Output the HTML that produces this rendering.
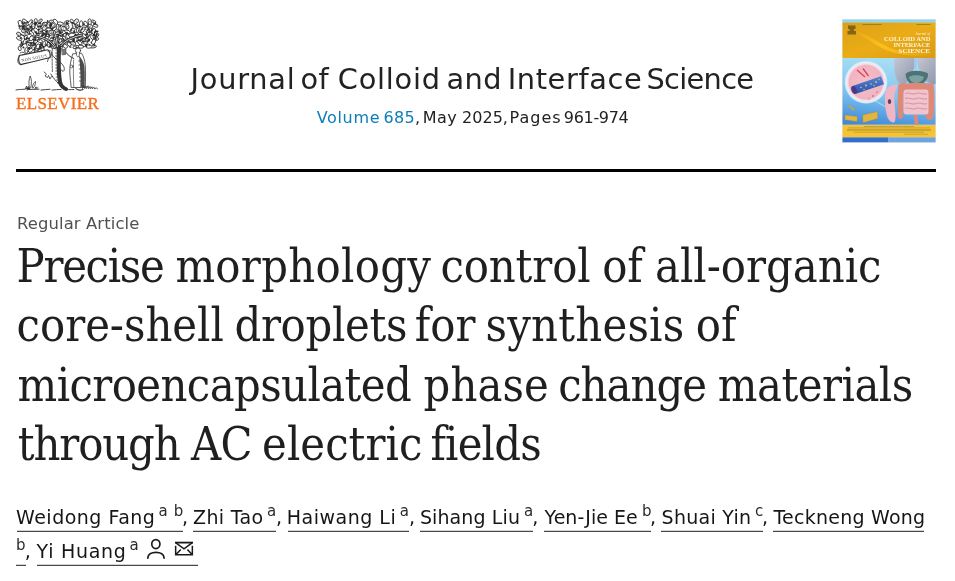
<!DOCTYPE html>
<html><head><meta charset="utf-8"><title>Precise morphology control of all-organic core-shell droplets</title>
<style>
html,body{margin:0;padding:0;background:#fff;}
body{width:955px;height:581px;overflow:hidden;position:relative;font-family:"DejaVu Sans",sans-serif;color:#1f1f1f;}
.abs{position:absolute;white-space:nowrap;}

#els{left:16px;top:93.8px;font-family:"Liberation Serif",serif;font-size:17px;line-height:20px;color:#f86d1a;letter-spacing:0.35px;-webkit-text-stroke:0.35px #f86d1a;}
#rule{left:16px;top:169px;width:920px;height:2px;background:#000;border-bottom:1px solid rgba(0,0,0,0.4);}

#ra{left:17px;top:212.7px;font-size:16.4px;line-height:22px;color:#505050;letter-spacing:0.12px;}
.an{position:absolute;font-size:19px;line-height:30px;white-space:nowrap;color:#161616;}
.as{position:absolute;font-size:15px;line-height:30px;white-space:nowrap;color:#2b2b2b;}
.ul{position:absolute;height:1px;background:#484848;box-shadow:0 -1px 0 rgba(80,80,80,0.25);}
#title{margin:0;font-weight:normal;}
.tw{position:absolute;white-space:nowrap;font-family:"DejaVu Serif Condensed","DejaVu Serif",serif;font-size:46.5px;line-height:59.25px;color:#1f1f1f;}
.jw{position:absolute;white-space:nowrap;font-size:28.8px;line-height:36px;color:#222;}
.vw{position:absolute;white-space:nowrap;font-size:16px;line-height:22px;color:#222;}
.vw a{color:#0c7dbb;text-decoration:none;}
</style></head>
<body>
<svg id="logo" class="abs" style="left:14px;top:16px" width="88" height="78" viewBox="0 0 88 78">
<g fill="#2f2f2f"><ellipse cx="54.1" cy="26.3" rx="1.9" ry="1.0" transform="rotate(143 54.1 26.3)"/><ellipse cx="56.2" cy="31.0" rx="1.4" ry="0.7" transform="rotate(20 56.2 31.0)"/><ellipse cx="47.6" cy="21.2" rx="1.1" ry="0.7" transform="rotate(2 47.6 21.2)"/><ellipse cx="78.1" cy="27.0" rx="1.8" ry="0.7" transform="rotate(29 78.1 27.0)"/><ellipse cx="53.6" cy="7.8" rx="1.9" ry="0.7" transform="rotate(0 53.6 7.8)"/><ellipse cx="20.7" cy="33.5" rx="1.2" ry="1.1" transform="rotate(157 20.7 33.5)"/><ellipse cx="47.2" cy="24.3" rx="1.9" ry="0.9" transform="rotate(37 47.2 24.3)"/><ellipse cx="27.5" cy="14.8" rx="1.1" ry="0.6" transform="rotate(30 27.5 14.8)"/><ellipse cx="27.7" cy="22.1" rx="1.6" ry="0.8" transform="rotate(1 27.7 22.1)"/><ellipse cx="28.4" cy="28.6" rx="1.2" ry="0.8" transform="rotate(87 28.4 28.6)"/><ellipse cx="60.8" cy="5.7" rx="0.9" ry="1.0" transform="rotate(176 60.8 5.7)"/><ellipse cx="67.6" cy="15.0" rx="0.9" ry="0.6" transform="rotate(104 67.6 15.0)"/><ellipse cx="17.8" cy="32.7" rx="1.7" ry="1.1" transform="rotate(35 17.8 32.7)"/><ellipse cx="80.2" cy="14.3" rx="1.5" ry="1.0" transform="rotate(64 80.2 14.3)"/><ellipse cx="11.9" cy="26.5" rx="1.8" ry="0.6" transform="rotate(144 11.9 26.5)"/><ellipse cx="80.6" cy="6.7" rx="1.6" ry="1.1" transform="rotate(61 80.6 6.7)"/><ellipse cx="47.7" cy="13.4" rx="1.1" ry="0.6" transform="rotate(57 47.7 13.4)"/><ellipse cx="15.2" cy="24.7" rx="1.1" ry="0.6" transform="rotate(179 15.2 24.7)"/><ellipse cx="36.3" cy="11.1" rx="1.8" ry="0.8" transform="rotate(107 36.3 11.1)"/><ellipse cx="37.6" cy="5.7" rx="0.9" ry="0.8" transform="rotate(165 37.6 5.7)"/><ellipse cx="71.8" cy="7.9" rx="1.9" ry="0.9" transform="rotate(132 71.8 7.9)"/><ellipse cx="67.6" cy="7.2" rx="1.1" ry="1.0" transform="rotate(78 67.6 7.2)"/><ellipse cx="27.2" cy="17.6" rx="1.8" ry="1.1" transform="rotate(180 27.2 17.6)"/><ellipse cx="40.2" cy="18.6" rx="1.4" ry="0.7" transform="rotate(131 40.2 18.6)"/><ellipse cx="36.1" cy="8.4" rx="2.0" ry="1.1" transform="rotate(68 36.1 8.4)"/><ellipse cx="54.4" cy="19.0" rx="1.0" ry="0.7" transform="rotate(61 54.4 19.0)"/><ellipse cx="67.1" cy="30.0" rx="1.8" ry="1.0" transform="rotate(65 67.1 30.0)"/><ellipse cx="60.0" cy="23.9" rx="1.3" ry="1.0" transform="rotate(137 60.0 23.9)"/><ellipse cx="26.0" cy="18.6" rx="1.7" ry="0.7" transform="rotate(139 26.0 18.6)"/><ellipse cx="80.5" cy="23.5" rx="0.9" ry="0.9" transform="rotate(105 80.5 23.5)"/><ellipse cx="23.6" cy="24.1" rx="1.8" ry="0.9" transform="rotate(83 23.6 24.1)"/><ellipse cx="68.4" cy="14.4" rx="1.7" ry="1.0" transform="rotate(116 68.4 14.4)"/><ellipse cx="31.7" cy="29.3" rx="1.7" ry="1.1" transform="rotate(157 31.7 29.3)"/><ellipse cx="81.4" cy="19.5" rx="1.1" ry="1.0" transform="rotate(95 81.4 19.5)"/><ellipse cx="79.9" cy="18.3" rx="1.7" ry="1.0" transform="rotate(124 79.9 18.3)"/><ellipse cx="17.1" cy="27.4" rx="1.6" ry="0.8" transform="rotate(105 17.1 27.4)"/><ellipse cx="54.1" cy="27.2" rx="1.7" ry="0.6" transform="rotate(115 54.1 27.2)"/><ellipse cx="16.1" cy="17.2" rx="1.1" ry="0.9" transform="rotate(117 16.1 17.2)"/><ellipse cx="54.7" cy="5.3" rx="1.1" ry="0.6" transform="rotate(85 54.7 5.3)"/><ellipse cx="13.9" cy="13.5" rx="1.1" ry="0.6" transform="rotate(33 13.9 13.5)"/><ellipse cx="41.2" cy="15.4" rx="1.5" ry="0.7" transform="rotate(110 41.2 15.4)"/><ellipse cx="36.2" cy="12.4" rx="1.0" ry="1.0" transform="rotate(74 36.2 12.4)"/><ellipse cx="33.7" cy="5.1" rx="1.0" ry="0.9" transform="rotate(110 33.7 5.1)"/><ellipse cx="30.8" cy="21.4" rx="1.8" ry="0.8" transform="rotate(172 30.8 21.4)"/><ellipse cx="69.7" cy="23.3" rx="1.1" ry="0.9" transform="rotate(66 69.7 23.3)"/><ellipse cx="82.4" cy="22.3" rx="1.9" ry="0.6" transform="rotate(63 82.4 22.3)"/><ellipse cx="11.8" cy="21.0" rx="1.1" ry="0.9" transform="rotate(111 11.8 21.0)"/><ellipse cx="76.1" cy="15.3" rx="1.1" ry="0.7" transform="rotate(78 76.1 15.3)"/><ellipse cx="82.7" cy="15.4" rx="1.9" ry="0.9" transform="rotate(173 82.7 15.4)"/><ellipse cx="24.3" cy="33.4" rx="1.4" ry="0.8" transform="rotate(89 24.3 33.4)"/><ellipse cx="26.5" cy="18.3" rx="1.6" ry="0.8" transform="rotate(22 26.5 18.3)"/><ellipse cx="27.0" cy="27.5" rx="0.9" ry="0.9" transform="rotate(149 27.0 27.5)"/><ellipse cx="25.5" cy="32.1" rx="1.2" ry="0.7" transform="rotate(141 25.5 32.1)"/><ellipse cx="15.7" cy="33.7" rx="1.6" ry="0.8" transform="rotate(53 15.7 33.7)"/><ellipse cx="55.9" cy="22.1" rx="1.0" ry="1.0" transform="rotate(134 55.9 22.1)"/><ellipse cx="27.7" cy="20.0" rx="1.2" ry="0.9" transform="rotate(61 27.7 20.0)"/><ellipse cx="41.1" cy="14.8" rx="1.5" ry="0.6" transform="rotate(134 41.1 14.8)"/><ellipse cx="23.7" cy="17.7" rx="1.9" ry="0.9" transform="rotate(165 23.7 17.7)"/><ellipse cx="38.1" cy="21.3" rx="1.6" ry="0.8" transform="rotate(127 38.1 21.3)"/><ellipse cx="77.8" cy="15.6" rx="1.8" ry="0.7" transform="rotate(71 77.8 15.6)"/><ellipse cx="27.3" cy="28.9" rx="1.8" ry="0.9" transform="rotate(12 27.3 28.9)"/><ellipse cx="38.5" cy="12.6" rx="1.9" ry="0.7" transform="rotate(141 38.5 12.6)"/><ellipse cx="42.2" cy="20.5" rx="1.3" ry="0.7" transform="rotate(90 42.2 20.5)"/><ellipse cx="51.0" cy="28.4" rx="1.2" ry="1.0" transform="rotate(12 51.0 28.4)"/><ellipse cx="67.9" cy="23.9" rx="1.7" ry="1.1" transform="rotate(5 67.9 23.9)"/><ellipse cx="7.0" cy="29.3" rx="1.6" ry="1.1" transform="rotate(39 7.0 29.3)"/><ellipse cx="61.4" cy="8.0" rx="1.9" ry="0.7" transform="rotate(53 61.4 8.0)"/><ellipse cx="53.1" cy="16.4" rx="1.6" ry="0.6" transform="rotate(29 53.1 16.4)"/><ellipse cx="11.9" cy="15.4" rx="1.0" ry="0.9" transform="rotate(13 11.9 15.4)"/><ellipse cx="63.9" cy="30.4" rx="1.4" ry="0.8" transform="rotate(24 63.9 30.4)"/><ellipse cx="52.2" cy="18.7" rx="1.3" ry="0.6" transform="rotate(169 52.2 18.7)"/><ellipse cx="60.2" cy="8.5" rx="1.5" ry="1.1" transform="rotate(114 60.2 8.5)"/><ellipse cx="48.5" cy="22.6" rx="1.5" ry="0.7" transform="rotate(47 48.5 22.6)"/><ellipse cx="64.5" cy="19.5" rx="1.2" ry="0.8" transform="rotate(24 64.5 19.5)"/><ellipse cx="63.4" cy="9.4" rx="1.6" ry="0.6" transform="rotate(128 63.4 9.4)"/><ellipse cx="57.8" cy="6.7" rx="1.6" ry="0.7" transform="rotate(22 57.8 6.7)"/><ellipse cx="74.9" cy="18.4" rx="1.8" ry="0.6" transform="rotate(58 74.9 18.4)"/><ellipse cx="62.5" cy="5.6" rx="1.9" ry="0.9" transform="rotate(27 62.5 5.6)"/><ellipse cx="21.3" cy="7.5" rx="1.6" ry="1.0" transform="rotate(175 21.3 7.5)"/><ellipse cx="14.5" cy="22.7" rx="1.2" ry="0.8" transform="rotate(64 14.5 22.7)"/><ellipse cx="53.3" cy="14.5" rx="1.1" ry="1.0" transform="rotate(69 53.3 14.5)"/><ellipse cx="56.1" cy="28.1" rx="1.8" ry="0.9" transform="rotate(78 56.1 28.1)"/><ellipse cx="51.6" cy="21.2" rx="1.3" ry="0.6" transform="rotate(133 51.6 21.2)"/><ellipse cx="5.7" cy="10.1" rx="1.9" ry="0.8" transform="rotate(7 5.7 10.1)"/><ellipse cx="41.6" cy="30.7" rx="1.4" ry="0.8" transform="rotate(112 41.6 30.7)"/><ellipse cx="11.2" cy="8.6" rx="1.3" ry="0.8" transform="rotate(29 11.2 8.6)"/><ellipse cx="75.2" cy="8.6" rx="1.2" ry="0.7" transform="rotate(46 75.2 8.6)"/><ellipse cx="26.5" cy="11.1" rx="0.9" ry="1.1" transform="rotate(87 26.5 11.1)"/><ellipse cx="59.4" cy="24.2" rx="1.9" ry="0.7" transform="rotate(85 59.4 24.2)"/><ellipse cx="57.8" cy="12.7" rx="1.7" ry="0.7" transform="rotate(121 57.8 12.7)"/><ellipse cx="21.9" cy="6.3" rx="2.0" ry="0.8" transform="rotate(72 21.9 6.3)"/><ellipse cx="28.6" cy="18.0" rx="1.7" ry="1.0" transform="rotate(51 28.6 18.0)"/><ellipse cx="16.4" cy="11.2" rx="1.9" ry="0.9" transform="rotate(121 16.4 11.2)"/><ellipse cx="66.9" cy="16.3" rx="1.5" ry="1.1" transform="rotate(8 66.9 16.3)"/><ellipse cx="45.6" cy="14.5" rx="1.0" ry="1.0" transform="rotate(17 45.6 14.5)"/><ellipse cx="7.4" cy="11.3" rx="1.3" ry="0.6" transform="rotate(9 7.4 11.3)"/><ellipse cx="23.9" cy="16.2" rx="1.0" ry="0.6" transform="rotate(55 23.9 16.2)"/><ellipse cx="82.7" cy="9.4" rx="1.3" ry="0.9" transform="rotate(92 82.7 9.4)"/><ellipse cx="9.9" cy="13.4" rx="1.5" ry="1.1" transform="rotate(19 9.9 13.4)"/><ellipse cx="52.1" cy="29.7" rx="0.9" ry="0.9" transform="rotate(39 52.1 29.7)"/><ellipse cx="42.9" cy="21.1" rx="1.6" ry="1.0" transform="rotate(68 42.9 21.1)"/><ellipse cx="77.9" cy="13.2" rx="1.8" ry="0.7" transform="rotate(81 77.9 13.2)"/><ellipse cx="12.5" cy="13.4" rx="1.7" ry="1.0" transform="rotate(16 12.5 13.4)"/><ellipse cx="28.7" cy="7.9" rx="1.2" ry="0.6" transform="rotate(15 28.7 7.9)"/><ellipse cx="38.1" cy="21.3" rx="1.0" ry="1.0" transform="rotate(44 38.1 21.3)"/><ellipse cx="6.9" cy="10.0" rx="1.3" ry="0.6" transform="rotate(51 6.9 10.0)"/><ellipse cx="37.5" cy="13.4" rx="1.5" ry="1.0" transform="rotate(135 37.5 13.4)"/><ellipse cx="56.6" cy="26.8" rx="1.4" ry="1.0" transform="rotate(103 56.6 26.8)"/><ellipse cx="62.7" cy="25.0" rx="1.8" ry="0.8" transform="rotate(48 62.7 25.0)"/><ellipse cx="13.7" cy="6.0" rx="1.2" ry="0.9" transform="rotate(30 13.7 6.0)"/></g>
<g fill="#fff" stroke="#333" stroke-width="0.85"><ellipse cx="26.0" cy="5.1" rx="2.8" ry="1.3" transform="rotate(137 26.0 5.1)"/><ellipse cx="6.3" cy="7.3" rx="3.1" ry="1.9" transform="rotate(64 6.3 7.3)"/><ellipse cx="53.4" cy="10.6" rx="2.6" ry="1.5" transform="rotate(77 53.4 10.6)"/><ellipse cx="71.5" cy="27.0" rx="2.7" ry="1.4" transform="rotate(17 71.5 27.0)"/><ellipse cx="61.6" cy="17.7" rx="3.0" ry="1.4" transform="rotate(169 61.6 17.7)"/><ellipse cx="28.6" cy="33.2" rx="2.6" ry="1.6" transform="rotate(83 28.6 33.2)"/><ellipse cx="52.1" cy="6.4" rx="2.6" ry="1.3" transform="rotate(147 52.1 6.4)"/><ellipse cx="50.5" cy="18.9" rx="2.6" ry="1.4" transform="rotate(159 50.5 18.9)"/><ellipse cx="25.3" cy="9.6" rx="2.6" ry="1.8" transform="rotate(101 25.3 9.6)"/><ellipse cx="22.3" cy="14.6" rx="3.2" ry="1.8" transform="rotate(45 22.3 14.6)"/><ellipse cx="73.4" cy="23.4" rx="2.3" ry="1.8" transform="rotate(72 73.4 23.4)"/><ellipse cx="16.2" cy="6.3" rx="3.1" ry="1.4" transform="rotate(129 16.2 6.3)"/><ellipse cx="69.0" cy="13.7" rx="3.1" ry="1.7" transform="rotate(123 69.0 13.7)"/><ellipse cx="34.7" cy="13.5" rx="2.5" ry="1.5" transform="rotate(5 34.7 13.5)"/><ellipse cx="42.0" cy="26.2" rx="3.2" ry="1.8" transform="rotate(72 42.0 26.2)"/><ellipse cx="79.6" cy="25.9" rx="2.7" ry="1.8" transform="rotate(121 79.6 25.9)"/><ellipse cx="32.5" cy="22.6" rx="2.7" ry="1.5" transform="rotate(122 32.5 22.6)"/><ellipse cx="65.8" cy="26.6" rx="3.1" ry="1.5" transform="rotate(55 65.8 26.6)"/><ellipse cx="62.1" cy="5.4" rx="2.9" ry="1.9" transform="rotate(136 62.1 5.4)"/><ellipse cx="22.1" cy="35.2" rx="2.6" ry="1.3" transform="rotate(98 22.1 35.2)"/><ellipse cx="34.8" cy="8.9" rx="3.1" ry="1.8" transform="rotate(118 34.8 8.9)"/><ellipse cx="53.5" cy="15.8" rx="2.9" ry="1.6" transform="rotate(20 53.5 15.8)"/><ellipse cx="76.5" cy="10.0" rx="2.5" ry="1.7" transform="rotate(55 76.5 10.0)"/><ellipse cx="55.2" cy="28.3" rx="2.3" ry="1.6" transform="rotate(40 55.2 28.3)"/><ellipse cx="37.7" cy="20.4" rx="2.5" ry="1.5" transform="rotate(163 37.7 20.4)"/><ellipse cx="11.7" cy="21.6" rx="2.4" ry="1.4" transform="rotate(109 11.7 21.6)"/><ellipse cx="51.9" cy="24.3" rx="2.9" ry="1.3" transform="rotate(124 51.9 24.3)"/><ellipse cx="42.7" cy="30.5" rx="2.5" ry="1.8" transform="rotate(172 42.7 30.5)"/><ellipse cx="21.2" cy="26.0" rx="2.7" ry="1.4" transform="rotate(151 21.2 26.0)"/><ellipse cx="10.6" cy="5.1" rx="2.6" ry="1.6" transform="rotate(37 10.6 5.1)"/><ellipse cx="59.2" cy="27.5" rx="2.6" ry="1.6" transform="rotate(15 59.2 27.5)"/><ellipse cx="8.1" cy="28.1" rx="2.5" ry="1.4" transform="rotate(130 8.1 28.1)"/><ellipse cx="42.2" cy="14.7" rx="3.1" ry="1.5" transform="rotate(133 42.2 14.7)"/><ellipse cx="26.4" cy="19.5" rx="3.0" ry="1.6" transform="rotate(125 26.4 19.5)"/><ellipse cx="26.9" cy="14.1" rx="2.7" ry="1.3" transform="rotate(153 26.9 14.1)"/><ellipse cx="58.0" cy="5.4" rx="2.3" ry="1.6" transform="rotate(49 58.0 5.4)"/><ellipse cx="9.7" cy="14.7" rx="2.2" ry="1.8" transform="rotate(146 9.7 14.7)"/><ellipse cx="41.6" cy="5.8" rx="3.2" ry="1.7" transform="rotate(50 41.6 5.8)"/><ellipse cx="35.0" cy="28.7" rx="2.8" ry="1.8" transform="rotate(78 35.0 28.7)"/><ellipse cx="56.2" cy="24.0" rx="2.2" ry="1.8" transform="rotate(6 56.2 24.0)"/><ellipse cx="14.5" cy="28.8" rx="3.2" ry="1.9" transform="rotate(76 14.5 28.8)"/><ellipse cx="26.1" cy="25.0" rx="2.4" ry="1.6" transform="rotate(22 26.1 25.0)"/><ellipse cx="17.5" cy="17.2" rx="3.0" ry="1.5" transform="rotate(48 17.5 17.2)"/><ellipse cx="67.1" cy="8.0" rx="3.2" ry="1.7" transform="rotate(93 67.1 8.0)"/><ellipse cx="22.2" cy="21.8" rx="2.7" ry="1.7" transform="rotate(47 22.2 21.8)"/><ellipse cx="79.7" cy="15.2" rx="2.9" ry="1.9" transform="rotate(95 79.7 15.2)"/><ellipse cx="46.4" cy="15.8" rx="2.5" ry="1.6" transform="rotate(166 46.4 15.8)"/><ellipse cx="71.7" cy="7.6" rx="2.7" ry="1.6" transform="rotate(63 71.7 7.6)"/><ellipse cx="30.7" cy="7.7" rx="2.5" ry="1.5" transform="rotate(174 30.7 7.7)"/><ellipse cx="24.0" cy="30.4" rx="2.6" ry="1.7" transform="rotate(113 24.0 30.4)"/><ellipse cx="75.6" cy="17.5" rx="2.4" ry="1.4" transform="rotate(162 75.6 17.5)"/><ellipse cx="5.3" cy="22.4" rx="2.9" ry="1.7" transform="rotate(21 5.3 22.4)"/><ellipse cx="65.7" cy="20.0" rx="2.7" ry="1.4" transform="rotate(162 65.7 20.0)"/><ellipse cx="81.5" cy="9.8" rx="2.6" ry="1.3" transform="rotate(16 81.5 9.8)"/><ellipse cx="14.2" cy="11.8" rx="2.7" ry="1.8" transform="rotate(89 14.2 11.8)"/><ellipse cx="17.1" cy="34.1" rx="3.1" ry="1.6" transform="rotate(142 17.1 34.1)"/><ellipse cx="49.5" cy="12.6" rx="2.7" ry="1.9" transform="rotate(19 49.5 12.6)"/><ellipse cx="46.4" cy="7.6" rx="3.1" ry="1.6" transform="rotate(10 46.4 7.6)"/><ellipse cx="58.8" cy="14.2" rx="2.7" ry="1.7" transform="rotate(132 58.8 14.2)"/><ellipse cx="66.8" cy="30.6" rx="2.7" ry="1.6" transform="rotate(8 66.8 30.6)"/><ellipse cx="7.2" cy="11.6" rx="2.3" ry="1.3" transform="rotate(151 7.2 11.6)"/><ellipse cx="42.0" cy="20.2" rx="3.0" ry="1.8" transform="rotate(4 42.0 20.2)"/><ellipse cx="59.9" cy="10.2" rx="2.7" ry="1.5" transform="rotate(72 59.9 10.2)"/><ellipse cx="37.0" cy="24.8" rx="3.1" ry="1.7" transform="rotate(118 37.0 24.8)"/><ellipse cx="39.2" cy="9.3" rx="2.5" ry="1.7" transform="rotate(59 39.2 9.3)"/><ellipse cx="46.8" cy="30.7" rx="2.3" ry="1.7" transform="rotate(66 46.8 30.7)"/><ellipse cx="79.7" cy="5.6" rx="2.2" ry="1.3" transform="rotate(27 79.7 5.6)"/><ellipse cx="13.1" cy="17.5" rx="2.5" ry="1.5" transform="rotate(158 13.1 17.5)"/><ellipse cx="4.9" cy="18.1" rx="2.5" ry="1.7" transform="rotate(29 4.9 18.1)"/><ellipse cx="64.3" cy="14.4" rx="2.7" ry="1.8" transform="rotate(86 64.3 14.4)"/><ellipse cx="30.0" cy="28.4" rx="2.9" ry="1.7" transform="rotate(96 30.0 28.4)"/><ellipse cx="5.7" cy="32.5" rx="2.2" ry="1.5" transform="rotate(76 5.7 32.5)"/><ellipse cx="46.0" cy="25.2" rx="2.7" ry="1.5" transform="rotate(121 46.0 25.2)"/><ellipse cx="21.7" cy="5.1" rx="2.4" ry="1.6" transform="rotate(94 21.7 5.1)"/><ellipse cx="79.6" cy="30.6" rx="2.9" ry="1.3" transform="rotate(168 79.6 30.6)"/><ellipse cx="17.4" cy="22.2" rx="2.5" ry="1.8" transform="rotate(116 17.4 22.2)"/><ellipse cx="12.3" cy="34.5" rx="2.9" ry="1.6" transform="rotate(95 12.3 34.5)"/><ellipse cx="30.5" cy="15.9" rx="2.9" ry="1.3" transform="rotate(22 30.5 15.9)"/><ellipse cx="82.3" cy="22.5" rx="2.4" ry="1.7" transform="rotate(27 82.3 22.5)"/><ellipse cx="74.7" cy="30.5" rx="3.1" ry="1.7" transform="rotate(1 74.7 30.5)"/><ellipse cx="19.1" cy="10.3" rx="2.6" ry="1.8" transform="rotate(98 19.1 10.3)"/><ellipse cx="57.8" cy="19.1" rx="3.2" ry="1.9" transform="rotate(170 57.8 19.1)"/><ellipse cx="37.9" cy="15.9" rx="3.2" ry="1.4" transform="rotate(175 37.9 15.9)"/><ellipse cx="70.1" cy="19.7" rx="2.9" ry="1.5" transform="rotate(35 70.1 19.7)"/><ellipse cx="43.6" cy="10.9" rx="2.6" ry="1.4" transform="rotate(88 43.6 10.9)"/><ellipse cx="77.8" cy="21.0" rx="2.7" ry="1.3" transform="rotate(60 77.8 21.0)"/><ellipse cx="19.8" cy="30.9" rx="2.8" ry="1.8" transform="rotate(113 19.8 30.9)"/><ellipse cx="51.3" cy="30.2" rx="2.4" ry="1.8" transform="rotate(40 51.3 30.2)"/><ellipse cx="61.7" cy="31.1" rx="2.9" ry="1.4" transform="rotate(164 61.7 31.1)"/><ellipse cx="73.5" cy="13.3" rx="2.8" ry="1.3" transform="rotate(37 73.5 13.3)"/><ellipse cx="69.0" cy="23.8" rx="2.5" ry="1.5" transform="rotate(32 69.0 23.8)"/><ellipse cx="61.8" cy="23.0" rx="3.1" ry="1.4" transform="rotate(97 61.8 23.0)"/><ellipse cx="38.5" cy="30.6" rx="2.3" ry="1.7" transform="rotate(25 38.5 30.6)"/><ellipse cx="33.4" cy="18.7" rx="2.2" ry="1.8" transform="rotate(33 33.4 18.7)"/><ellipse cx="10.7" cy="9.5" rx="3.1" ry="1.3" transform="rotate(108 10.7 9.5)"/><ellipse cx="46.4" cy="21.1" rx="2.3" ry="1.3" transform="rotate(20 46.4 21.1)"/><ellipse cx="37.3" cy="5.5" rx="2.2" ry="1.4" transform="rotate(172 37.3 5.5)"/><ellipse cx="82.6" cy="18.3" rx="2.4" ry="1.8" transform="rotate(47 82.6 18.3)"/><ellipse cx="75.7" cy="5.7" rx="2.9" ry="1.7" transform="rotate(84 75.7 5.7)"/><ellipse cx="11.3" cy="25.6" rx="2.6" ry="1.8" transform="rotate(121 11.3 25.6)"/><ellipse cx="30.7" cy="11.8" rx="2.8" ry="1.8" transform="rotate(130 30.7 11.8)"/></g>
<path d="M26.6 3.9L25.3 6.3M54.4 9.7L52.4 11.6M61.2 16.4L62.0 19.1M53.3 5.7L50.8 7.1M25.0 8.3L25.5 11.0M73.2 22.0L73.6 24.8M67.6 13.2L70.3 14.2M42.1 24.8L41.9 27.6M31.5 21.5L33.4 23.6M61.6 4.1L62.7 6.7M33.5 8.4L36.1 9.4M76.1 8.7L76.9 11.4M37.1 19.2L38.4 21.7M53.1 23.5L50.8 25.2M19.9 25.8L22.6 26.2M58.2 26.5L60.1 28.6M42.5 13.3L42.0 16.1M28.2 13.9L25.5 14.4M9.2 13.4L10.2 16.1M36.2 28.1L33.7 29.3M13.8 27.6L15.1 30.0M18.7 16.5L16.3 17.9M23.3 20.9L21.2 22.7M47.5 15.0L45.3 16.7M30.2 6.4L31.3 9.0M74.6 16.6L76.7 18.4M65.5 18.6L65.9 21.4M12.8 11.8L15.6 11.9M49.0 11.2L49.9 13.9M60.2 14.2L57.4 14.2M8.5 11.1L5.9 12.1M61.3 10.0L58.5 10.3M38.3 8.2L40.2 10.4M79.7 4.2L79.6 7.0M6.2 17.6L3.6 18.6M28.9 27.6L31.2 29.2M45.0 24.2L47.0 26.2M80.2 29.3L79.1 31.9M13.7 34.2L10.9 34.9M81.1 21.8L83.6 23.2M17.8 9.8L20.4 10.8M37.7 14.6L38.0 17.3M42.3 10.5L44.9 11.3M18.5 30.6L21.2 31.3M60.7 30.2L62.8 32.0M69.4 22.5L68.5 25.1M38.5 29.2L38.5 32.0M11.0 8.2L10.3 10.9M38.0 4.2L36.7 6.7M76.9 5.1L74.4 6.2M29.5 11.1L31.9 12.5" stroke="#555" stroke-width="0.5" fill="none"/>
<g fill="#2a2a2a"><ellipse cx="78.4" cy="13.9" rx="1.5" ry="0.6" transform="rotate(146 78.4 13.9)"/><ellipse cx="43.3" cy="20.7" rx="1.8" ry="0.8" transform="rotate(135 43.3 20.7)"/><ellipse cx="9.1" cy="10.6" rx="1.2" ry="0.9" transform="rotate(164 9.1 10.6)"/><ellipse cx="28.1" cy="29.2" rx="1.3" ry="0.7" transform="rotate(18 28.1 29.2)"/><ellipse cx="68.3" cy="23.0" rx="1.6" ry="0.8" transform="rotate(130 68.3 23.0)"/><ellipse cx="75.7" cy="16.3" rx="1.2" ry="0.7" transform="rotate(38 75.7 16.3)"/><ellipse cx="36.4" cy="9.5" rx="1.6" ry="0.9" transform="rotate(25 36.4 9.5)"/><ellipse cx="46.2" cy="16.9" rx="1.2" ry="0.8" transform="rotate(43 46.2 16.9)"/><ellipse cx="46.4" cy="19.5" rx="1.6" ry="0.7" transform="rotate(52 46.4 19.5)"/><ellipse cx="72.9" cy="10.2" rx="1.5" ry="0.5" transform="rotate(19 72.9 10.2)"/><ellipse cx="26.0" cy="32.2" rx="1.0" ry="0.5" transform="rotate(62 26.0 32.2)"/><ellipse cx="21.8" cy="16.1" rx="1.4" ry="0.9" transform="rotate(169 21.8 16.1)"/><ellipse cx="44.5" cy="30.1" rx="1.2" ry="0.7" transform="rotate(11 44.5 30.1)"/><ellipse cx="31.6" cy="19.7" rx="1.2" ry="1.0" transform="rotate(114 31.6 19.7)"/><ellipse cx="69.9" cy="30.5" rx="0.9" ry="0.7" transform="rotate(169 69.9 30.5)"/><ellipse cx="50.2" cy="10.2" rx="1.2" ry="0.7" transform="rotate(20 50.2 10.2)"/><ellipse cx="69.7" cy="8.5" rx="1.3" ry="0.7" transform="rotate(88 69.7 8.5)"/><ellipse cx="40.5" cy="11.1" rx="1.2" ry="0.5" transform="rotate(26 40.5 11.1)"/><ellipse cx="57.1" cy="13.9" rx="0.9" ry="0.9" transform="rotate(58 57.1 13.9)"/><ellipse cx="75.4" cy="29.0" rx="1.0" ry="0.6" transform="rotate(123 75.4 29.0)"/><ellipse cx="18.0" cy="12.1" rx="1.0" ry="0.8" transform="rotate(18 18.0 12.1)"/><ellipse cx="25.7" cy="7.1" rx="1.6" ry="0.7" transform="rotate(154 25.7 7.1)"/><ellipse cx="26.3" cy="30.4" rx="1.2" ry="1.0" transform="rotate(155 26.3 30.4)"/><ellipse cx="60.2" cy="16.1" rx="1.2" ry="1.0" transform="rotate(131 60.2 16.1)"/><ellipse cx="49.9" cy="23.6" rx="1.1" ry="0.5" transform="rotate(60 49.9 23.6)"/><ellipse cx="52.3" cy="24.9" rx="1.6" ry="0.6" transform="rotate(177 52.3 24.9)"/><ellipse cx="15.3" cy="17.2" rx="0.9" ry="0.7" transform="rotate(120 15.3 17.2)"/><ellipse cx="25.4" cy="24.0" rx="0.9" ry="0.6" transform="rotate(19 25.4 24.0)"/><ellipse cx="49.2" cy="18.8" rx="1.0" ry="0.9" transform="rotate(171 49.2 18.8)"/><ellipse cx="80.3" cy="29.0" rx="1.5" ry="0.7" transform="rotate(53 80.3 29.0)"/><ellipse cx="74.9" cy="23.9" rx="1.5" ry="0.9" transform="rotate(150 74.9 23.9)"/><ellipse cx="10.0" cy="10.0" rx="1.7" ry="0.6" transform="rotate(132 10.0 10.0)"/><ellipse cx="52.9" cy="7.1" rx="1.7" ry="0.8" transform="rotate(63 52.9 7.1)"/><ellipse cx="44.3" cy="18.8" rx="1.6" ry="0.9" transform="rotate(30 44.3 18.8)"/><ellipse cx="9.4" cy="31.5" rx="1.0" ry="0.9" transform="rotate(173 9.4 31.5)"/><ellipse cx="12.8" cy="22.5" rx="1.2" ry="0.8" transform="rotate(95 12.8 22.5)"/><ellipse cx="82.9" cy="18.1" rx="0.9" ry="1.0" transform="rotate(150 82.9 18.1)"/><ellipse cx="14.2" cy="13.2" rx="1.7" ry="1.0" transform="rotate(42 14.2 13.2)"/><ellipse cx="22.4" cy="17.3" rx="1.7" ry="0.5" transform="rotate(17 22.4 17.3)"/><ellipse cx="32.4" cy="15.5" rx="1.5" ry="0.9" transform="rotate(142 32.4 15.5)"/><ellipse cx="80.8" cy="7.5" rx="1.6" ry="0.9" transform="rotate(160 80.8 7.5)"/><ellipse cx="28.4" cy="19.3" rx="1.5" ry="1.0" transform="rotate(0 28.4 19.3)"/><ellipse cx="9.1" cy="12.1" rx="1.5" ry="0.6" transform="rotate(131 9.1 12.1)"/><ellipse cx="42.8" cy="31.1" rx="1.0" ry="0.9" transform="rotate(149 42.8 31.1)"/><ellipse cx="36.9" cy="30.1" rx="1.1" ry="0.7" transform="rotate(111 36.9 30.1)"/><ellipse cx="36.2" cy="8.1" rx="0.9" ry="0.6" transform="rotate(31 36.2 8.1)"/><ellipse cx="20.6" cy="32.3" rx="1.3" ry="0.6" transform="rotate(90 20.6 32.3)"/><ellipse cx="63.3" cy="21.7" rx="1.0" ry="0.7" transform="rotate(126 63.3 21.7)"/><ellipse cx="25.7" cy="20.7" rx="1.0" ry="0.7" transform="rotate(125 25.7 20.7)"/><ellipse cx="36.9" cy="30.0" rx="1.8" ry="0.7" transform="rotate(74 36.9 30.0)"/><ellipse cx="74.7" cy="24.9" rx="1.6" ry="0.7" transform="rotate(178 74.7 24.9)"/><ellipse cx="74.6" cy="12.2" rx="0.9" ry="1.0" transform="rotate(151 74.6 12.2)"/><ellipse cx="45.2" cy="15.7" rx="1.0" ry="0.7" transform="rotate(95 45.2 15.7)"/><ellipse cx="38.0" cy="12.6" rx="1.3" ry="1.0" transform="rotate(113 38.0 12.6)"/><ellipse cx="82.5" cy="18.9" rx="1.1" ry="0.9" transform="rotate(78 82.5 18.9)"/><ellipse cx="58.5" cy="6.8" rx="1.4" ry="0.7" transform="rotate(13 58.5 6.8)"/><ellipse cx="58.0" cy="6.4" rx="1.0" ry="0.7" transform="rotate(28 58.0 6.4)"/><ellipse cx="72.5" cy="28.6" rx="1.0" ry="0.9" transform="rotate(79 72.5 28.6)"/><ellipse cx="52.7" cy="17.4" rx="1.7" ry="1.0" transform="rotate(115 52.7 17.4)"/><ellipse cx="41.7" cy="28.2" rx="1.3" ry="0.6" transform="rotate(114 41.7 28.2)"/><ellipse cx="71.6" cy="19.3" rx="1.0" ry="0.6" transform="rotate(30 71.6 19.3)"/><ellipse cx="21.1" cy="21.5" rx="1.2" ry="0.8" transform="rotate(24 21.1 21.5)"/><ellipse cx="7.4" cy="26.3" rx="1.7" ry="0.6" transform="rotate(87 7.4 26.3)"/><ellipse cx="72.7" cy="18.2" rx="1.3" ry="1.0" transform="rotate(2 72.7 18.2)"/><ellipse cx="37.7" cy="24.8" rx="1.7" ry="0.7" transform="rotate(172 37.7 24.8)"/><ellipse cx="81.5" cy="22.6" rx="1.6" ry="0.8" transform="rotate(45 81.5 22.6)"/><ellipse cx="74.3" cy="13.7" rx="1.7" ry="0.8" transform="rotate(153 74.3 13.7)"/><ellipse cx="26.4" cy="10.3" rx="1.5" ry="0.8" transform="rotate(16 26.4 10.3)"/><ellipse cx="34.4" cy="25.6" rx="1.2" ry="1.0" transform="rotate(69 34.4 25.6)"/><ellipse cx="19.4" cy="27.0" rx="1.2" ry="1.0" transform="rotate(43 19.4 27.0)"/><ellipse cx="34.6" cy="18.6" rx="1.7" ry="0.8" transform="rotate(34 34.6 18.6)"/><ellipse cx="28.6" cy="15.3" rx="0.9" ry="0.6" transform="rotate(106 28.6 15.3)"/><ellipse cx="8.7" cy="7.1" rx="1.5" ry="0.9" transform="rotate(38 8.7 7.1)"/><ellipse cx="12.1" cy="26.1" rx="1.7" ry="0.7" transform="rotate(97 12.1 26.1)"/><ellipse cx="8.1" cy="28.7" rx="1.7" ry="0.9" transform="rotate(104 8.1 28.7)"/><ellipse cx="63.3" cy="11.9" rx="1.1" ry="0.5" transform="rotate(129 63.3 11.9)"/><ellipse cx="10.7" cy="23.1" rx="1.2" ry="0.7" transform="rotate(67 10.7 23.1)"/><ellipse cx="44.2" cy="26.2" rx="1.7" ry="0.9" transform="rotate(178 44.2 26.2)"/><ellipse cx="36.4" cy="27.8" rx="1.0" ry="0.7" transform="rotate(21 36.4 27.8)"/><ellipse cx="26.9" cy="32.0" rx="1.2" ry="0.8" transform="rotate(109 26.9 32.0)"/><ellipse cx="48.4" cy="18.8" rx="1.1" ry="1.0" transform="rotate(77 48.4 18.8)"/><ellipse cx="29.4" cy="31.2" rx="1.6" ry="0.9" transform="rotate(116 29.4 31.2)"/><ellipse cx="46.4" cy="10.1" rx="1.4" ry="0.7" transform="rotate(123 46.4 10.1)"/><ellipse cx="21.4" cy="23.5" rx="1.5" ry="0.8" transform="rotate(129 21.4 23.5)"/><ellipse cx="80.1" cy="19.2" rx="1.1" ry="1.0" transform="rotate(118 80.1 19.2)"/><ellipse cx="61.8" cy="18.8" rx="1.3" ry="0.7" transform="rotate(32 61.8 18.8)"/><ellipse cx="36.0" cy="29.9" rx="1.5" ry="0.7" transform="rotate(128 36.0 29.9)"/><ellipse cx="21.5" cy="28.4" rx="1.1" ry="0.6" transform="rotate(44 21.5 28.4)"/><ellipse cx="72.1" cy="29.9" rx="1.4" ry="0.8" transform="rotate(41 72.1 29.9)"/><ellipse cx="6.7" cy="22.0" rx="1.3" ry="0.6" transform="rotate(133 6.7 22.0)"/><ellipse cx="73.9" cy="20.2" rx="1.5" ry="0.6" transform="rotate(24 73.9 20.2)"/><ellipse cx="65.5" cy="24.4" rx="1.8" ry="1.0" transform="rotate(2 65.5 24.4)"/><ellipse cx="47.3" cy="16.0" rx="1.5" ry="0.5" transform="rotate(177 47.3 16.0)"/><ellipse cx="69.4" cy="25.6" rx="1.4" ry="1.0" transform="rotate(3 69.4 25.6)"/><ellipse cx="21.1" cy="8.0" rx="1.0" ry="0.7" transform="rotate(162 21.1 8.0)"/><ellipse cx="19.5" cy="24.0" rx="1.1" ry="0.5" transform="rotate(127 19.5 24.0)"/><ellipse cx="12.9" cy="22.2" rx="1.4" ry="0.7" transform="rotate(178 12.9 22.2)"/><ellipse cx="10.5" cy="13.5" rx="1.0" ry="0.8" transform="rotate(100 10.5 13.5)"/><ellipse cx="37.0" cy="8.2" rx="1.5" ry="0.9" transform="rotate(24 37.0 8.2)"/><ellipse cx="17.9" cy="29.2" rx="1.0" ry="0.6" transform="rotate(130 17.9 29.2)"/><ellipse cx="81.7" cy="20.8" rx="1.2" ry="0.9" transform="rotate(76 81.7 20.8)"/><ellipse cx="15.4" cy="17.8" rx="1.1" ry="0.6" transform="rotate(72 15.4 17.8)"/><ellipse cx="15.0" cy="29.2" rx="1.6" ry="0.5" transform="rotate(38 15.0 29.2)"/><ellipse cx="17.5" cy="14.1" rx="1.6" ry="1.0" transform="rotate(132 17.5 14.1)"/><ellipse cx="21.7" cy="8.5" rx="1.4" ry="0.8" transform="rotate(80 21.7 8.5)"/><ellipse cx="43.1" cy="29.1" rx="1.0" ry="0.6" transform="rotate(150 43.1 29.1)"/><ellipse cx="72.5" cy="22.2" rx="1.8" ry="0.9" transform="rotate(158 72.5 22.2)"/><ellipse cx="72.5" cy="16.2" rx="1.3" ry="0.7" transform="rotate(56 72.5 16.2)"/><ellipse cx="29.9" cy="17.9" rx="1.5" ry="1.0" transform="rotate(66 29.9 17.9)"/><ellipse cx="14.0" cy="26.5" rx="1.0" ry="0.7" transform="rotate(21 14.0 26.5)"/><ellipse cx="49.3" cy="24.0" rx="1.8" ry="0.6" transform="rotate(99 49.3 24.0)"/><ellipse cx="29.8" cy="6.9" rx="0.9" ry="0.7" transform="rotate(94 29.8 6.9)"/><ellipse cx="62.4" cy="31.2" rx="1.2" ry="0.7" transform="rotate(18 62.4 31.2)"/><ellipse cx="31.9" cy="10.0" rx="1.0" ry="0.6" transform="rotate(140 31.9 10.0)"/><ellipse cx="27.9" cy="9.6" rx="1.1" ry="0.6" transform="rotate(133 27.9 9.6)"/><ellipse cx="34.2" cy="25.5" rx="1.4" ry="0.9" transform="rotate(122 34.2 25.5)"/><ellipse cx="32.5" cy="18.2" rx="1.4" ry="0.9" transform="rotate(114 32.5 18.2)"/><ellipse cx="65.9" cy="10.5" rx="1.2" ry="0.9" transform="rotate(140 65.9 10.5)"/><ellipse cx="44.9" cy="23.2" rx="1.1" ry="0.7" transform="rotate(71 44.9 23.2)"/><ellipse cx="65.8" cy="28.6" rx="1.3" ry="0.5" transform="rotate(39 65.8 28.6)"/><ellipse cx="39.5" cy="22.2" rx="1.7" ry="0.7" transform="rotate(109 39.5 22.2)"/><ellipse cx="19.6" cy="29.4" rx="1.7" ry="0.5" transform="rotate(14 19.6 29.4)"/><ellipse cx="32.9" cy="6.8" rx="1.1" ry="0.7" transform="rotate(0 32.9 6.8)"/><ellipse cx="21.3" cy="28.6" rx="0.9" ry="0.9" transform="rotate(68 21.3 28.6)"/><ellipse cx="13.4" cy="16.6" rx="1.0" ry="0.7" transform="rotate(103 13.4 16.6)"/><ellipse cx="11.0" cy="6.9" rx="1.6" ry="0.5" transform="rotate(69 11.0 6.9)"/><ellipse cx="21.9" cy="6.8" rx="1.6" ry="0.7" transform="rotate(48 21.9 6.8)"/><ellipse cx="24.5" cy="13.8" rx="1.1" ry="0.8" transform="rotate(151 24.5 13.8)"/><ellipse cx="64.9" cy="10.0" rx="1.2" ry="0.7" transform="rotate(138 64.9 10.0)"/><ellipse cx="20.3" cy="27.4" rx="1.4" ry="0.8" transform="rotate(38 20.3 27.4)"/><ellipse cx="32.8" cy="15.4" rx="1.0" ry="0.8" transform="rotate(161 32.8 15.4)"/><ellipse cx="15.1" cy="32.2" rx="1.5" ry="0.8" transform="rotate(144 15.1 32.2)"/><ellipse cx="68.1" cy="13.1" rx="1.7" ry="0.6" transform="rotate(132 68.1 13.1)"/><ellipse cx="17.8" cy="10.4" rx="1.0" ry="0.6" transform="rotate(84 17.8 10.4)"/><ellipse cx="39.2" cy="29.5" rx="1.1" ry="0.8" transform="rotate(103 39.2 29.5)"/><ellipse cx="25.8" cy="32.6" rx="1.5" ry="0.6" transform="rotate(103 25.8 32.6)"/><ellipse cx="59.4" cy="25.2" rx="1.5" ry="0.7" transform="rotate(21 59.4 25.2)"/><ellipse cx="46.8" cy="16.5" rx="1.7" ry="0.7" transform="rotate(83 46.8 16.5)"/><ellipse cx="64.7" cy="14.6" rx="1.3" ry="0.6" transform="rotate(103 64.7 14.6)"/><ellipse cx="19.9" cy="23.7" rx="1.3" ry="0.8" transform="rotate(8 19.9 23.7)"/><ellipse cx="81.4" cy="15.1" rx="1.0" ry="0.7" transform="rotate(159 81.4 15.1)"/><ellipse cx="18.0" cy="6.5" rx="1.0" ry="0.9" transform="rotate(71 18.0 6.5)"/><ellipse cx="9.6" cy="19.7" rx="1.7" ry="0.7" transform="rotate(31 9.6 19.7)"/><ellipse cx="62.4" cy="11.2" rx="1.0" ry="0.6" transform="rotate(4 62.4 11.2)"/><ellipse cx="7.3" cy="18.6" rx="1.0" ry="0.7" transform="rotate(16 7.3 18.6)"/><ellipse cx="17.0" cy="27.3" rx="1.7" ry="0.6" transform="rotate(47 17.0 27.3)"/><ellipse cx="64.8" cy="23.2" rx="1.1" ry="0.5" transform="rotate(71 64.8 23.2)"/><ellipse cx="80.5" cy="16.6" rx="1.7" ry="0.6" transform="rotate(77 80.5 16.6)"/><ellipse cx="24.6" cy="10.5" rx="1.1" ry="0.7" transform="rotate(119 24.6 10.5)"/><ellipse cx="9.9" cy="10.9" rx="1.4" ry="0.7" transform="rotate(6 9.9 10.9)"/></g>
<g fill="none" stroke="#2e2e2e" stroke-width="2.4" stroke-linecap="round"><path d="M41 32 C38 26 32 22 22 20"/><path d="M46 31 C50 25 58 21 68 19"/><path d="M43.5 31 C43 25 42 20 40 15"/></g>
<g fill="none" stroke="#fff" stroke-width="0.8" stroke-linecap="round"><path d="M41 32 C38 26 32 22 22 20"/><path d="M46 31 C50 25 58 21 68 19"/><path d="M43.5 31 C43 25 42 20 40 15"/></g>
<g stroke="#333" stroke-linecap="round" stroke-linejoin="round" fill="none">
<path d="M38.3 33 C38 40 38.2 48 38.4 56" stroke-width="0.8" stroke-dasharray="2.2 1.2"/>
<path d="M43.5 31.5 C43 44 43.2 58 44.5 66 C45.2 69 47 71.5 50 73" stroke-width="1.2"/>
<path d="M45.4 31 C44.8 44 45 58 46.3 66 C47.1 69.5 49.3 72 52.3 73.2" stroke-width="3.4"/>
<path d="M41.8 34 L43.4 34 M41.6 37 L43.3 37 M41.5 40 L43.2 40 M41.5 43 L43.2 43 M41.5 46 L43.2 46 M41.6 49 L43.2 49 M41.7 52 L43.3 52 M41.8 55 L43.4 55 M42 58 L43.6 58 M42.2 61 L43.9 61 M42.6 64 L44.3 64 M43.4 67 L45 67" stroke-width="0.7"/>
<path d="M36.8 58 C40 63 44 68 51.5 73" stroke-width="0.9"/>
<path d="M37.7 38.3 C40 42 44 44.5 47 47 C49.5 49.5 51 52 50 54.5 C49.2 56 47.5 55.5 47.8 54" stroke-width="0.9"/>
<path d="M30 56 L32.5 58 L31 60 L33.5 61.5 L34.5 59.5 L36 63 L37.5 60.5" stroke-width="0.8"/>
<path d="M58.6 38.2 C57 44 55.6 50 55.8 56 C56 62 56.8 67 57.2 71.5 L71.2 71.5 C71.6 64 71.8 56 71.2 49 C70.6 44 69.5 40 67.8 37.6 Z" fill="#fff" stroke-width="0.8"/>
<path d="M65 39.5 C67.5 42 69.5 46 70.4 50 C71 56 70.9 64 70.6 71 L66.4 71 C66.8 62 66.4 52 65 39.5 Z" fill="#4d4d4d" stroke="none"/>
<path d="M64.6 45 L66.2 45 M64.9 49 L66.6 49 M65.2 53 L66.8 53 M65.4 57 L67 57 M65.5 61 L67 61 M65.5 65 L67 65" stroke-width="0.7"/>
<path d="M59.6 44 C59.2 52 59.4 62 59.8 71" stroke-width="0.6"/>
<circle cx="64" cy="34.6" r="2.6" fill="#fff" stroke-width="0.8"/>
<path d="M62.3 36.2 C62.3 39.5 63.2 41.5 64.4 41 C65.4 40 65.6 38 65.5 36.3" fill="#fff" stroke-width="0.7"/>
<path d="M59.8 42.5 C56 41 53.5 38.5 51.8 36.2" stroke-width="1"/>
<path d="M48 33.5 L52 33.2 L51.5 38.5 L48.5 38.8 Z" fill="#777" stroke-width="0.6"/>
<circle cx="57.6" cy="50.5" r="1.4" fill="#fff" stroke-width="0.7"/>
<path d="M62 72.5 C63.5 74.4 67 74.6 69 73.5" stroke-width="1.2"/>
<path d="M68.5 72.8 L70 69.5 L70.8 72.6 L72 70 L72.6 72.6 L74 69.8 L74.6 72.7 L76 70.5 L76.5 72.8 L78 70.8 L78.5 72.8 L80 71.2 L80.6 72.9 L82.5 71.8 L83.5 73" stroke-width="0.8"/>
<path d="M5.2 39.5 C15 37.5 25 35.6 34 33.8 C35.8 35.5 36.6 38.5 36 41.8 C26 44 15.5 46.5 6.6 48.6 C4.6 47 4.2 42.5 5.2 39.5 Z" fill="#fff" stroke-width="1.1"/>
<path d="M5.6 40.5 C3.8 41.2 3.3 44.5 4.2 46.8 C5 48.2 6 48.4 6.8 48 M34 35 C35.8 34 37.6 35 37.8 37 C37.6 39 36.8 40.5 35.8 41.5 M34.5 42 L33.5 45.5" stroke-width="0.8"/>
<path d="M6 37 C8 35.5 10 36 11 37.5 M20 35.5 C22 34 24 34.5 25 36 M27 35.5 L30 33.8" stroke-width="0.8"/>
<path d="M2 74 C5 73.2 8 73.6 11 73.2 M13 73.8 C17 73 21 73.6 25 73.2 M27 74 C30 73.4 33 73.8 36 73.3 M38 74 C41 73.4 44 73.8 47 73.5 M50 73.8 C53 73.4 56 73.8 60 73.5" stroke-width="0.9"/>
<path d="M15.2 71 C14.6 67 15 63 16.2 60 C17.6 63 17.8 67 16.9 71 Z M18.2 71.5 C18.8 68.2 20.2 66.2 21.6 65.5 C21.6 68.2 20.6 70.2 19.6 71.5 Z" fill="#fff" stroke-width="0.8"/>
<path d="M11.5 73 L12.5 70 L13.4 72.6 L14.4 70.5 L15.2 73 M21 72.8 L22 70.8 L22.6 72.7 L24 71.5" stroke-width="0.9"/>
<path d="M12.8 72.6 L15.5 72.6" stroke-width="1.6"/>
</g>
<text x="20.3" y="43.4" font-family="Liberation Serif,serif" font-size="4.2" fill="#333" text-anchor="middle" transform="rotate(-11 20.3 42)" letter-spacing="0.3">NON SOLUS</text>

</svg>
<div id="els" class="abs">ELSEVIER</div>
<div id="hdr">
<span class="jw" style="left:190.6px;top:61.2px;letter-spacing:0.749px">Journal</span>
<span class="jw" style="left:300.4px;top:61.2px;letter-spacing:0.483px">of</span>
<span class="jw" style="left:337.8px;top:61.2px;letter-spacing:0.749px">Colloid</span>
<span class="jw" style="left:446.4px;top:61.2px;letter-spacing:0.483px">and</span>
<span class="jw" style="left:507.7px;top:61.2px;letter-spacing:0.633px">Interface</span>
<span class="jw" style="left:646.5px;top:61.2px;letter-spacing:-0.684px">Science</span>
<span class="vw" style="left:316.7px;top:106.6px;letter-spacing:0.663px"><a>Volume</a></span>
<span class="vw" style="left:383.4px;top:106.6px;letter-spacing:0.317px"><a>685</a>,</span>
<span class="vw" style="left:422.8px;top:106.6px;letter-spacing:0.383px">May</span>
<span class="vw" style="left:462.0px;top:106.6px;letter-spacing:0.033px">2025,</span>
<span class="vw" style="left:509.5px;top:106.6px;letter-spacing:1.000px">Pages</span>
<span class="vw" style="left:563.8px;top:106.6px;letter-spacing:-0.317px">961-974</span>
</div>
<div id="rule" class="abs"></div>
<svg id="cover" class="abs" style="left:842px;top:19px;filter:blur(0.3px)" width="94" height="124" viewBox="0 0 94 124">
<defs>
<linearGradient id="og" x1="0" y1="0" x2="1" y2="1"><stop offset="0" stop-color="#dba018"/><stop offset="0.5" stop-color="#eaac16"/><stop offset="1" stop-color="#d89a12"/></linearGradient>
<linearGradient id="sw" x1="0" y1="0" x2="1" y2="0"><stop offset="0" stop-color="#ffc21a" stop-opacity="0"/><stop offset="0.35" stop-color="#ffc41c" stop-opacity="0.85"/><stop offset="1" stop-color="#ffc41c" stop-opacity="0"/></linearGradient>
<linearGradient id="bg" x1="0.2" y1="0" x2="0" y2="1"><stop offset="0" stop-color="#a6dcf4"/><stop offset="0.5" stop-color="#80c4ee"/><stop offset="1" stop-color="#3a84d8"/></linearGradient>
<radialGradient id="sp" cx="0.5" cy="0.5" r="0.5"><stop offset="0" stop-color="#f4c0c8"/><stop offset="0.78" stop-color="#f0b4c0"/><stop offset="0.86" stop-color="#f8e4ee"/><stop offset="0.95" stop-color="#d8f0fa"/><stop offset="1" stop-color="#bfe6f8" stop-opacity="0.6"/></radialGradient>
<linearGradient id="lg" x1="0" y1="0" x2="1" y2="1"><stop offset="0" stop-color="#c4c6d2"/><stop offset="1" stop-color="#9098ac"/></linearGradient>
<linearGradient id="cy" x1="0" y1="0" x2="0" y2="1"><stop offset="0" stop-color="#4f86dc"/><stop offset="1" stop-color="#2c4fae"/></linearGradient>
</defs>
<rect x="0" y="0" width="94" height="123.8" fill="#f1e6e6"/>
<rect x="0.5" y="0.5" width="93" height="3.4" fill="#8fd5ee"/>
<rect x="0.5" y="3.6" width="93" height="35.5" fill="url(#og)"/>
<path d="M10 11 C22 13 31 21 44 27 C56 33 70 34 93 32 L93 36 C70 38 54 36 42 30 C30 24 20 16 10 13 Z" fill="url(#sw)"/>
<g fill="#6d5418" opacity="0.8"><path d="M6 6.5 H13.5 V10 H12 V12 H14 V15.5 H5.5 V12 H7.5 V10 H6 Z"/></g>
<g fill="#5a4a20" opacity="0.55"><rect x="20.5" y="5" width="19" height="0.8"/><rect x="74.5" y="5" width="14" height="0.8"/></g>
<g font-family="Liberation Serif,serif" fill="#fdf3d6" text-anchor="end" font-weight="bold">
<text x="88" y="16.2" font-size="3.6" font-style="italic" font-weight="normal">Journal of</text>
<text x="88.6" y="22.4" font-size="6.6" textLength="46.5" lengthAdjust="spacingAndGlyphs">COLLOID AND</text>
<text x="88.2" y="28" font-size="6.6" textLength="36.8" lengthAdjust="spacingAndGlyphs">INTERFACE</text>
<text x="88" y="33.6" font-size="6.6" textLength="31.4" lengthAdjust="spacingAndGlyphs">SCIENCE</text>
</g>
<rect x="0.5" y="39.1" width="93" height="66.6" fill="url(#bg)"/>
<path d="M52 39.1 H72 V49 C70 56 66 62 62 66 C57 67 53.5 60 52.5 52 Z" fill="url(#lg)"/>
<path d="M74.6 39.1 H93.5 V65 C88 66 83 62 80 56 C77 52 75 46 74.6 39.1 Z" fill="url(#lg)"/>
<path d="M72 39.1 H74.6 V50 H72 Z" fill="#96cfee"/>
<path d="M63.5 55 C67 51 79 50.5 86 54.5 C86.5 60 82 66 74 66.5 C68 66.5 64 61.5 63.5 55 Z" fill="#4e7376"/>
<path d="M67 58 C70 55.5 78 55.5 82 58 C81 62 77 64 73.5 64 C70 64 67.5 61.5 67 58 Z" fill="#7aa2a2"/>
<circle cx="24" cy="63.2" r="21.5" fill="url(#sp)"/>
<path d="M10.5 67 L39 57.2 L42 65.2 L13.4 75 Z" fill="url(#cy)"/>
<ellipse cx="12" cy="71" rx="2.6" ry="4.1" transform="rotate(-19 12 71)" fill="#4a3a86"/>
<g fill="#f2c640"><circle cx="19" cy="68.5" r="0.8"/><circle cx="24" cy="66.5" r="0.9"/><circle cx="29" cy="65" r="0.8"/><circle cx="34" cy="63" r="0.9"/><circle cx="22" cy="70.5" r="0.7"/><circle cx="32" cy="66.5" r="0.7"/><circle cx="37" cy="60.5" r="0.7"/></g>
<path d="M15 51 L23 58 M21 49.5 L26.5 57" stroke="#e0405a" stroke-width="1.3"/>
<g fill="#8a6878" opacity="0.7"><circle cx="31" cy="77" r="0.9"/><circle cx="35" cy="73" r="0.8"/><circle cx="27" cy="80" r="0.7"/></g>
<path d="M30 80 L44 88" stroke="#d8f2fc" stroke-width="0.8" opacity="0.8"/>
<path d="M56 66 C51.5 65 46 67 44 71 C42 77 43 87 44.5 95 C45.5 100 48.5 104 52 103.5 C54 102 53.8 96 53 89 C52 81 51.5 73 56 66 Z" fill="#f1b6c6"/>
<ellipse cx="47.5" cy="82.5" rx="1.7" ry="2.6" fill="#5c4066"/>
<path d="M56.5 65.5 C66 63.5 80 63.5 91.5 65 C93 76 93 90 90.5 100.5 C87 102 84.5 100.5 83.5 97.5 L86 71 L62 71 L61 98 C59 101 56.5 100.5 56 97.5 C55.5 86 55.5 75 56.5 65.5 Z" fill="#de8878"/>
<rect x="61.5" y="70.5" width="25" height="25" rx="3" fill="#f1c3cc"/>
<g fill="none" stroke="#d898a6" stroke-width="1.1"><path d="M63 74.5 C67 72.5 70 76.5 74 74.5 C78 72.5 81 76.5 85 74.5"/><path d="M63 79.5 C67 77.5 70 81.5 74 79.5 C78 77.5 81 81.5 85 79.5"/><path d="M63 84.5 C67 82.5 70 86.5 74 84.5 C78 82.5 81 86.5 85 84.5"/><path d="M63 89.5 C67 87.5 70 91.5 74 89.5 C78 87.5 81 91.5 85 89.5"/></g>
<path d="M71.5 96 L73 105.7 L76.5 105.7 L75.5 96 Z" fill="#de8878"/>
<g fill="#e2b440" stroke="#a07a20" stroke-width="0.3"><path d="M3 96 L15.5 97.5 L15 102.5 L2.8 100.8 Z"/><path d="M20.6 96 L35.5 92.5 L35.8 99.5 L21 103.8 Z"/><path d="M6.8 86 L13 91 L12 92 L6 87 Z"/></g>
<path d="M0.5 105.9 H93.5 V118.4 H0.5 Z" fill="#f5c333"/>
<g fill="#7a6a30" opacity="0.5"><rect x="22" y="107" width="50" height="0.7"/><rect x="6" y="108.6" width="82" height="0.7"/><rect x="5" y="110" width="84" height="0.7"/><rect x="5" y="111.4" width="84" height="0.7"/><rect x="12" y="112.8" width="70" height="0.7"/><rect x="62" y="114.8" width="24" height="0.7"/></g>
<rect x="0.5" y="118.4" width="46" height="4.9" fill="#2f6fce"/>
<rect x="46.5" y="118.4" width="47" height="4.9" fill="#6aa4e2"/>
</svg>
<div id="ra" class="abs">Regular Article</div>
<h1 id="title">
<span class="tw" style="left:16.6px;top:237.00px;letter-spacing:-1.300px">Precise</span>
<span class="tw" style="left:175.4px;top:237.00px;letter-spacing:0.309px">morphology</span>
<span class="tw" style="left:440.5px;top:237.00px;letter-spacing:-0.146px">control</span>
<span class="tw" style="left:602.3px;top:237.00px;letter-spacing:-0.113px">of</span>
<span class="tw" style="left:655.0px;top:237.00px;letter-spacing:0.007px">all-organic</span>
<span class="tw" style="left:16.6px;top:296.25px;letter-spacing:-0.022px">core-shell</span>
<span class="tw" style="left:234.4px;top:296.25px;letter-spacing:-0.279px">droplets</span>
<span class="tw" style="left:414.8px;top:296.25px;letter-spacing:-0.022px">for</span>
<span class="tw" style="left:485.5px;top:296.25px;letter-spacing:0.228px">synthesis</span>
<span class="tw" style="left:695.8px;top:296.25px;letter-spacing:-0.022px">of</span>
<span class="tw" style="left:17.6px;top:355.50px;letter-spacing:-0.589px">microencapsulated</span>
<span class="tw" style="left:423.6px;top:355.50px;letter-spacing:0.086px">phase</span>
<span class="tw" style="left:558.2px;top:355.50px;letter-spacing:-1.004px">change</span>
<span class="tw" style="left:717.8px;top:355.50px;letter-spacing:-0.489px">materials</span>
<span class="tw" style="left:17.8px;top:414.75px;letter-spacing:-1.116px">through</span>
<span class="tw" style="left:190.9px;top:414.75px;letter-spacing:-0.516px">AC</span>
<span class="tw" style="left:262.1px;top:414.75px;letter-spacing:0.055px">electric</span>
<span class="tw" style="left:430.4px;top:414.75px;letter-spacing:-0.796px">fields</span>
</h1>
<span class="an" style="left:16.0px;top:502.0px;letter-spacing:0.500px">Weidong Fang</span>
<span class="an" style="left:193.1px;top:502.0px;letter-spacing:0.333px">Zhi Tao</span>
<span class="an" style="left:286.8px;top:502.0px;letter-spacing:0.500px">Haiwang Li</span>
<span class="an" style="left:419.9px;top:502.0px;letter-spacing:0.111px">Sihang Liu</span>
<span class="an" style="left:544.6px;top:502.0px;letter-spacing:-0.000px">Yen-Jie Ee</span>
<span class="an" style="left:661.6px;top:502.0px;letter-spacing:0.250px">Shuai Yin</span>
<span class="an" style="left:773.4px;top:502.0px;letter-spacing:0.250px">Teckneng Wong</span>
<span class="an" style="left:36.6px;top:536.0px;letter-spacing:0.714px">Yi Huang</span>
<span class="as" style="left:158.6px;top:496.2px">a</span>
<span class="as" style="left:173.7px;top:496.2px">b</span>
<span class="as" style="left:267.0px;top:496.2px">a</span>
<span class="as" style="left:399.8px;top:496.2px">a</span>
<span class="as" style="left:523.9px;top:496.2px">a</span>
<span class="as" style="left:642.0px;top:496.2px">b</span>
<span class="as" style="left:754.9px;top:496.2px">c</span>
<span class="as" style="left:16.0px;top:530.2px">b</span>
<span class="as" style="left:129.5px;top:530.2px">a</span>
<span class="an" style="left:182.0px;top:502.0px">,</span>
<span class="an" style="left:276.0px;top:502.0px">,</span>
<span class="an" style="left:408.9px;top:502.0px">,</span>
<span class="an" style="left:532.3px;top:502.0px">,</span>
<span class="an" style="left:650.1px;top:502.0px">,</span>
<span class="an" style="left:762.0px;top:502.0px">,</span>
<span class="an" style="left:24.8px;top:536.0px">,</span>
<div class="ul" style="left:16.5px;top:531px;width:166.3px"></div>
<div class="ul" style="left:193.4px;top:531px;width:83.1px"></div>
<div class="ul" style="left:287.7px;top:531px;width:121.6px"></div>
<div class="ul" style="left:420.0px;top:531px;width:113.0px"></div>
<div class="ul" style="left:544.0px;top:531px;width:106.6px"></div>
<div class="ul" style="left:661.4px;top:531px;width:101.4px"></div>
<div class="ul" style="left:773.0px;top:531px;width:150.5px"></div>
<div class="ul" style="left:16.3px;top:565px;width:9.4px"></div>
<div class="ul" style="left:36.8px;top:565px;width:161.1px"></div>
<svg class="abs" style="left:146px;top:538px" width="20" height="21" viewBox="0 0 20 21"><ellipse cx="9.85" cy="6.1" rx="4.1" ry="4.5" fill="none" stroke="#1a1a1a" stroke-width="1.65"/><path d="M1.8 20 C1.8 16.2 5.5 14.3 9.95 14.3 C14.4 14.3 18.1 16.2 18.1 20" fill="none" stroke="#1a1a1a" stroke-width="1.75" stroke-linecap="round"/></svg>
<svg class="abs" style="left:174px;top:540px" width="20" height="16" viewBox="0 0 20 16"><path d="M1 2.6 H19" stroke="#1a1a1a" stroke-width="1.8" fill="none"/><path d="M1.6 2.6 L10 8.8 L18.4 2.6 M1.65 5.8 V14.65 H18.35 V5.8 M2.2 14.2 L6.8 9.4 M17.8 14.2 L13.4 9.4" fill="none" stroke="#1a1a1a" stroke-width="1.5"/></svg>
</body></html>
